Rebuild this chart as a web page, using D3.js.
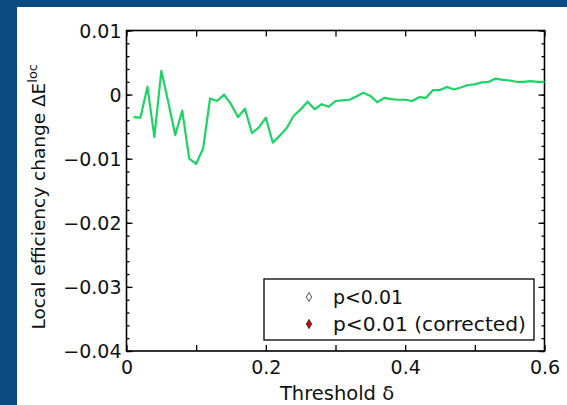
<!DOCTYPE html>
<html><head><meta charset="utf-8">
<script src="https://cdn.jsdelivr.net/npm/d3@7"></script>
<style>
html,body{margin:0;padding:0;background:#0a4a80;}
svg{display:block;}
text{font-family:"DejaVu Sans",sans-serif;fill:#111;}
</style></head>
<body>
<svg id="c" width="567" height="405"></svg>
<script>
const thresholds = d3.range(1, 61).map(k => k / 100);
const deltaEloc = [
 -0.0035,-0.0036,0.0012,-0.0066,0.0037,-0.0012,-0.0063,-0.0025,-0.0100,-0.0108,
 -0.0084,-0.0006,-0.0010,0.0000,-0.0015,-0.0035,-0.0022,-0.0060,-0.0051,-0.0036,
 -0.0075,-0.0064,-0.0052,-0.0033,-0.0023,-0.0011,-0.0023,-0.0015,-0.0019,-0.0010,
 -0.0009,-0.0008,-0.0003,0.0003,-0.0002,-0.0012,-0.0005,-0.0007,-0.0008,-0.0008,
 -0.0010,-0.0004,-0.0005,0.0007,0.0007,0.0012,0.0008,0.0011,0.0015,0.0016,
 0.0019,0.0020,0.0025,0.0023,0.0022,0.0020,0.0020,0.0021,0.0020,0.0020];
const xTickLabels = [0, 0.2, 0.4, 0.6];
const yTickLabels = [0.01, 0, -0.01, -0.02, -0.03, -0.04];
const legendLabels = ["p<0.01", "p<0.01 (corrected)"];

const svg = d3.select("#c");
svg.append("rect").attr("x",17).attr("y",7).attr("width",567-17).attr("height",405-7).attr("fill","#fff");

const L=126.5, R=544.5, T=30.5, B=351;
const x = d3.scaleLinear().domain([0,0.6]).range([L,R]);
const y = d3.scaleLinear().domain([-0.04,0.01]).range([B,T]);

const fmt = d => d===0 ? "0" : d3.format(".2~f")(d).replace("-","\u2212");
const fmtx = d => d===0 ? "0" : d3.format(".1f")(d);

// bottom axis
const gx = svg.append("g").attr("transform",`translate(0,${B})`)
  .call(d3.axisBottom(x).tickValues(d3.range(0,0.61,0.1)).tickSizeInner(-6).tickSizeOuter(0)
    .tickFormat(d => xTickLabels.some(v=>Math.abs(v-d)<1e-9) ? fmtx(d) : ""));
gx.selectAll("text").attr("font-size",19).attr("dy","1.05em").style("font-family","DejaVu Sans");
// top axis
svg.append("g").attr("transform",`translate(0,${T})`)
  .call(d3.axisTop(x).tickValues(d3.range(0,0.61,0.1)).tickSizeInner(-6).tickSizeOuter(0).tickFormat(""));
// left axis
const gy = svg.append("g").attr("transform",`translate(${L},0)`)
  .call(d3.axisLeft(y).tickValues(yTickLabels).tickSizeInner(-6).tickSizeOuter(0).tickFormat(fmt).tickPadding(4));
gy.selectAll("text").attr("font-size",19).attr("dy","0.35em").attr("x",-5).style("font-family","DejaVu Sans");
svg.append("g").attr("transform",`translate(${L},0)`)
  .call(d3.axisLeft(y).tickValues(d3.range(-0.04,0.0101,0.002)).tickSizeInner(-3).tickSizeOuter(0).tickFormat(""));
// right axis
svg.append("g").attr("transform",`translate(${R},0)`)
  .call(d3.axisRight(y).tickValues(yTickLabels).tickSizeInner(-6).tickSizeOuter(0).tickFormat(""));
svg.append("g").attr("transform",`translate(${R},0)`)
  .call(d3.axisRight(y).tickValues(d3.range(-0.04,0.0101,0.002)).tickSizeInner(-3).tickSizeOuter(0).tickFormat(""));
svg.selectAll(".domain").remove();
svg.selectAll(".tick line").attr("stroke","#000").attr("stroke-width",1.3);

// frame
svg.append("rect").attr("x",L).attr("y",T).attr("width",R-L).attr("height",B-T)
  .attr("fill","none").attr("stroke","#000").attr("stroke-width",1.6);

// line
const line = d3.line().x((d,i)=>x(thresholds[i])).y(d=>y(d));
svg.append("path").datum(deltaEloc).attr("d",line).attr("fill","none")
  .attr("stroke","#1ed366").attr("stroke-width",2.2).attr("stroke-linejoin","round");

// legend
const lg = svg.append("g");
lg.append("rect").attr("x",264).attr("y",279).attr("width",270).attr("height",61)
  .attr("fill","#fff").attr("stroke","#000").attr("stroke-width",1.3);
const diamond = d3.symbol().type(d3.symbolDiamond).size(24);
const styles = [{fill:"#fff",stroke:"#555"},{fill:"#e00000",stroke:"#333"}];
legendLabels.forEach((t,i)=>{
  const cy = 297 + i*27;
  lg.append("path").attr("d",diamond).attr("transform",`translate(309,${cy})`)
    .attr("fill",styles[i].fill).attr("stroke",styles[i].stroke).attr("stroke-width",1);
  lg.append("text").attr("x",333).attr("y",cy).attr("dy","0.35em").attr("font-size",20)
    .attr("textLength", i===0 ? 70 : 193).attr("lengthAdjust","spacingAndGlyphs").text(t);
});

// axis labels
svg.append("text").attr("x",337).attr("y",400).attr("text-anchor","middle").attr("font-size",19.5).text("Threshold \u03b4");
const yl = svg.append("text").attr("transform",`translate(45,${(T+B)/2+6}) rotate(-90)`).attr("text-anchor","middle").attr("font-size",18.5);
yl.append("tspan").text("Local efficiency change \u0394E");
yl.append("tspan").attr("font-size",13).attr("dy",-8).text("loc");
</script>
</body></html>
